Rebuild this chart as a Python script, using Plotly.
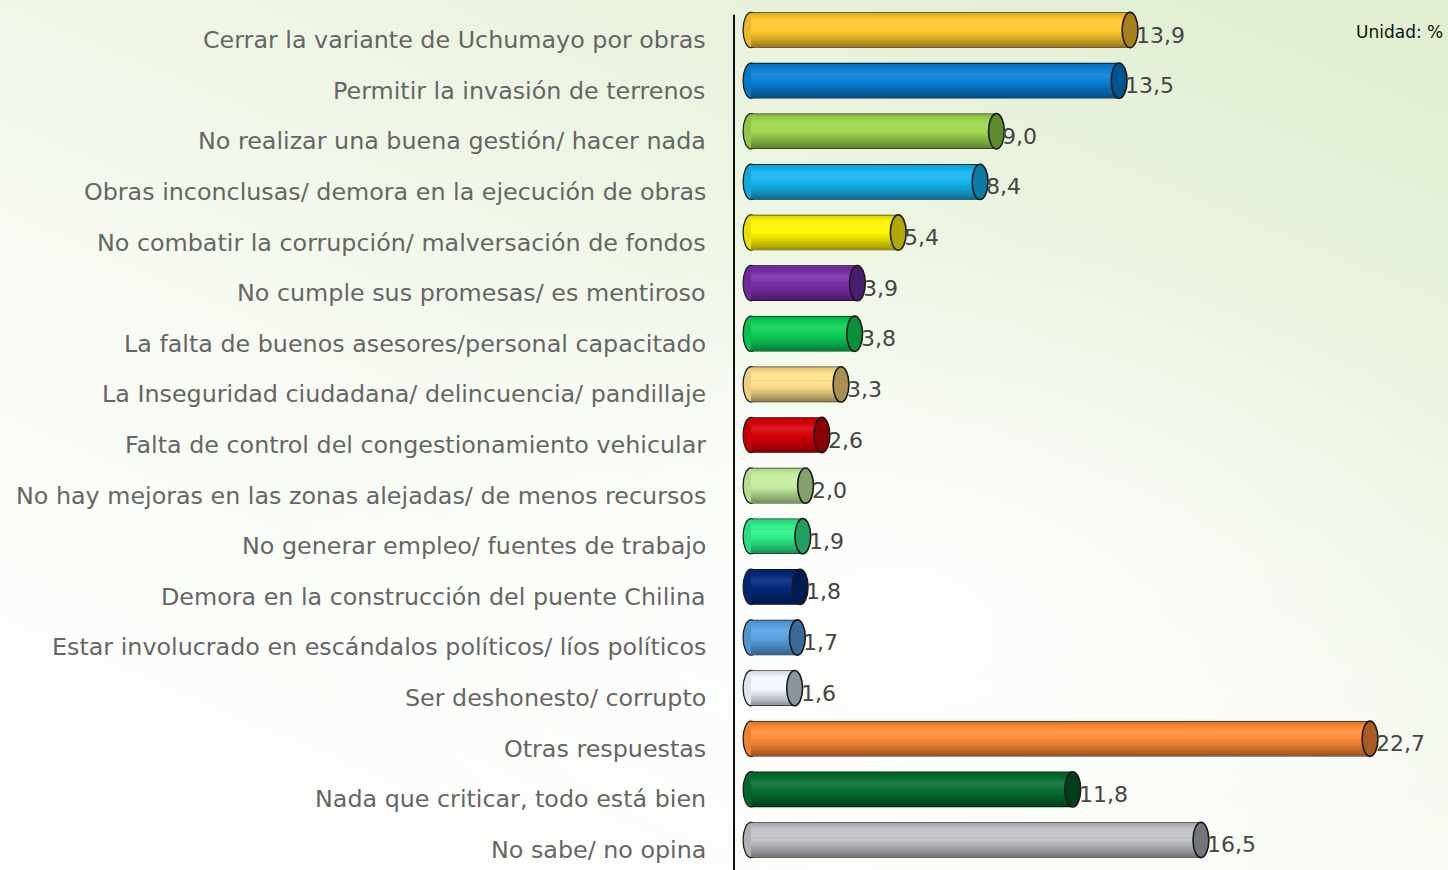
import base64
import plotly.graph_objects as go

categories = [
    "Cerrar la variante de Uchumayo por obras",
    "Permitir la invasión de terrenos",
    "No realizar una buena gestión/ hacer nada",
    "Obras inconclusas/ demora en la ejecución de obras",
    "No combatir la corrupción/ malversación de fondos",
    "No cumple sus promesas/ es mentiroso",
    "La falta de buenos asesores/personal capacitado",
    "La Inseguridad ciudadana/ delincuencia/ pandillaje",
    "Falta de control del congestionamiento vehicular",
    "No hay mejoras en las zonas alejadas/ de menos recursos",
    "No generar empleo/ fuentes de trabajo",
    "Demora en la construcción del puente Chilina",
    "Estar involucrado en escándalos políticos/ líos políticos",
    "Ser deshonesto/ corrupto",
    "Otras respuestas",
    "Nada que criticar, todo está bien",
    "No sabe/ no opina",
]
values = [13.9, 13.5, 9.0, 8.4, 5.4, 3.9, 3.8, 3.3, 2.6, 2.0, 1.9, 1.8, 1.7, 1.6, 22.7, 11.8, 16.5]
bar_colors = ["#FFC82E", "#0A80D8", "#9ED64C", "#14B6F0", "#FFF500", "#7A2EA8", "#0CD058",
              "#FFE08C", "#D80008", "#C6EEA0", "#2EF08C", "#04287A", "#5AA2E2", "#F4F8FF",
              "#FF8C36", "#056E30", "#C0C2C8"]
cap_colors = ["#A8801C", "#005490", "#5E8C2C", "#0C7CA4", "#B0A800", "#4A1C70", "#08903A",
              "#A89050", "#8A0004", "#86A06C", "#20A060", "#001A52", "#3A6A98", "#8C949C",
              "#A85C22", "#023E1A", "#74767E"]
unit_label = "Unidad: %"

n = len(categories)
ypos = list(range(n))
half_h = 0.336
cap_rx = 0.29


def hex_rgb(h):
    h = h.lstrip("#")
    return [int(h[i:i + 2], 16) for i in (0, 2, 4)]


def shade(h, f):
    r, g, b = hex_rgb(h)
    if f >= 1:
        m = f - 1
        r, g, b = [c + (255 - c) * m for c in (r, g, b)]
    else:
        r, g, b = [c * f for c in (r, g, b)]
    return "rgb(%d,%d,%d)" % tuple(max(0, min(255, int(round(c)))) for c in (r, g, b))


def profile(t):
    if t < 0.3:
        return 0.86 + 0.24 * (t / 0.3)
    return 1.10 - 0.50 * ((t - 0.3) / 0.7) ** 1.4


fig = go.Figure()

# dark base (forms the outline at top and bottom)
fig.add_trace(go.Bar(
    x=values, y=ypos, orientation="h", base=0,
    width=2 * half_h + 0.03,
    marker=dict(color=[shade(c, 0.25) for c in bar_colors], line=dict(width=0)),
    hoverinfo="skip", showlegend=False,
))

nb = 24
bh = 2 * half_h / nb
for k in range(nb):
    t = (k + 0.5) / nb
    fig.add_trace(go.Bar(
        x=values, y=ypos, orientation="h", base=0,
        offset=-half_h + k * bh, width=bh * 1.5 if k < nb - 1 else bh,
        marker=dict(color=[shade(c, profile(t)) for c in bar_colors], line=dict(width=0)),
        hoverinfo="skip", showlegend=False,
    ))

shapes = []
# axis line
shapes.append(dict(type="line", xref="paper", yref="y", x0=734 / 1448, x1=734 / 1448,
                   y0=-0.3, y1=16.6, line=dict(color="#111111", width=2)))
for i, (v, bc, cc) in enumerate(zip(values, bar_colors, cap_colors)):
    # rounded left end
    shapes.append(dict(type="circle", xref="x", yref="y", layer="below",
                       x0=-cap_rx, x1=cap_rx, y0=i - half_h - 0.012, y1=i + half_h + 0.012,
                       fillcolor=shade(bc, 0.92), line=dict(color="#222222", width=1.3)))
    # end cap
    shapes.append(dict(type="circle", xref="x", yref="y", layer="above",
                       x0=v - cap_rx, x1=v + cap_rx, y0=i - half_h - 0.012, y1=i + half_h + 0.012,
                       fillcolor=cc, line=dict(color="#1A1A1A", width=1.6)))

annotations = []
for i, (cat, v) in enumerate(zip(categories, values)):
    annotations.append(dict(x=708 / 1448, xref="paper", y=i, yref="y", text=cat,
                            xanchor="right", yanchor="middle", yshift=-10, showarrow=False,
                            font=dict(family="DejaVu Sans", size=23.8, color="#666666")))
    annotations.append(dict(x=v, xref="x", y=i, yref="y", text=f"{v:.1f}".replace(".", ","),
                            xanchor="left", yanchor="middle", xshift=4, yshift=-5, showarrow=False,
                            font=dict(family="DejaVu Sans", size=22, color="#454545")))
annotations.append(dict(x=1445 / 1448, xref="paper", y=1 - 32 / 870, yref="paper", text=unit_label,
                        xanchor="right", yanchor="middle", showarrow=False,
                        font=dict(family="DejaVu Sans", size=17, color="#111111")))

svg = """<svg xmlns='http://www.w3.org/2000/svg' width='1448' height='870' viewBox='0 0 1448 870'>
<defs>
<linearGradient id='g' x1='0.15' y1='1' x2='0.85' y2='0'>
<stop offset='0' stop-color='#FFFFFF'/>
<stop offset='0.45' stop-color='#F6FAF1'/>
<stop offset='1' stop-color='#E2EFD3'/>
</linearGradient>
<radialGradient id='r' cx='0.62' cy='0.72' r='0.45'>
<stop offset='0' stop-color='#FFFFFF' stop-opacity='0.85'/>
<stop offset='1' stop-color='#FFFFFF' stop-opacity='0'/>
</radialGradient>
</defs>
<rect width='1448' height='870' fill='url(#g)'/>
<rect width='1448' height='870' fill='url(#r)'/>
</svg>"""
src = "data:image/svg+xml;base64," + base64.b64encode(svg.encode()).decode()

fig.update_layout(
    width=1448, height=870,
    margin=dict(l=0, r=0, t=0, b=0),
    barmode="overlay",
    paper_bgcolor="#F4F9EF", plot_bgcolor="rgba(0,0,0,0)",
    xaxis=dict(domain=[733 / 1448, 1], range=[-0.66, 25.56], visible=False, fixedrange=True),
    yaxis=dict(range=[16.593, -0.593], visible=False, fixedrange=True),
    shapes=shapes, annotations=annotations,
    images=[dict(source=src, xref="paper", yref="paper", x=0, y=1, sizex=1, sizey=1,
                 xanchor="left", yanchor="top", sizing="stretch", layer="below")],
    showlegend=False,
)

fig.write_html("out.html", config={"displayModeBar": False},
               post_script="document.body.style.margin='0px';document.body.style.padding='0px';"
                           "document.body.style.overflow='hidden';")
